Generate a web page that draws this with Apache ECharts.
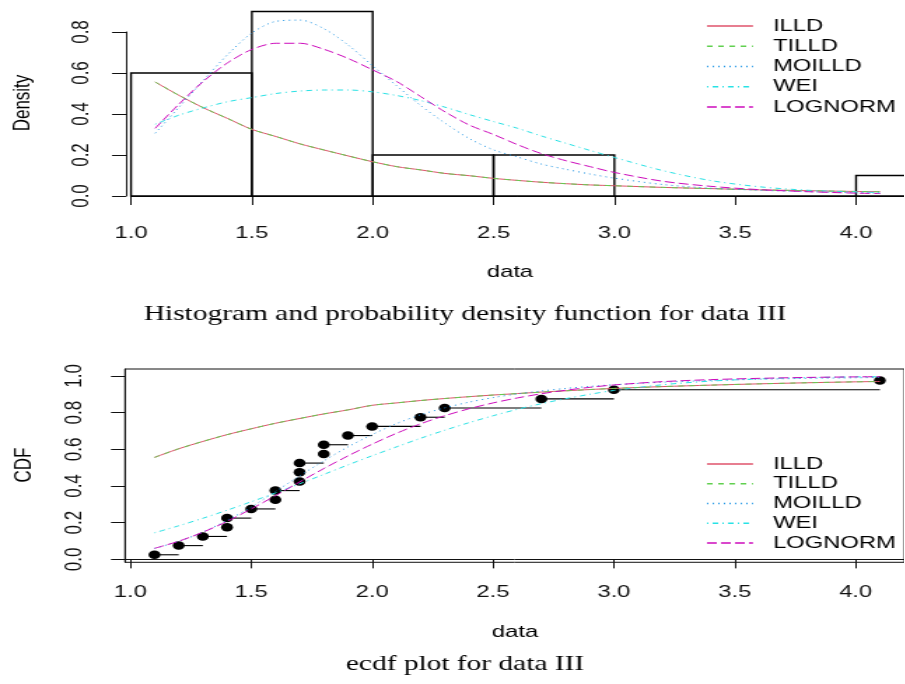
<!DOCTYPE html>
<html>
<head>
<meta charset="utf-8">
<script src="https://cdn.jsdelivr.net/npm/echarts@6/dist/echarts.min.js"></script>
<style>
  html, body { margin: 0; padding: 0; overflow: hidden; background: #fff; }
  /* the reference is an R plot stretched sideways, so the chart is drawn narrow and scaled */
  #chart { height: 684px; transform-origin: 0 0; }
</style>
</head>
<body>
<div id="chart"></div>
<script>
// 数据
const names = ['ILLD', 'TILLD', 'MOILLD', 'WEI', 'LOGNORM']
const colors = ['#DF536B', '#61D04F', '#2297E6', '#28E2E5', '#CD0BBC']
const dashes = ['solid', [4, 4], [1, 3], [1, 3, 4, 3], [7, 3]]

const xTicks = [1.0, 1.5, 2.0, 2.5, 3.0, 3.5, 4.0]
const densTicks = [0, 0.2, 0.4, 0.6, 0.8]
const cdfTicks = [0, 0.2, 0.4, 0.6, 0.8, 1.0]

// histogram (density scale)
const binStart = [1.0, 1.5, 2.0, 2.5, 3.0, 3.5, 4.0]
const binEnd = [1.5, 2.0, 2.5, 3.0, 3.5, 4.0, 4.5]
const binDensity = [0.6, 0.9, 0.2, 0.2, 0, 0, 0.1]

// fitted curves
const xs = [1.1, 1.2, 1.3, 1.4, 1.5, 1.6, 1.7, 1.8, 1.9, 2.0, 2.1, 2.2, 2.3, 2.4, 2.5, 2.6, 2.7, 2.8, 2.9, 3.0, 3.2, 3.4, 3.6, 3.8, 4.0, 4.1]
const pdfILLD = [0.556, 0.49, 0.43, 0.378, 0.325, 0.29, 0.254, 0.224, 0.195, 0.167, 0.143, 0.127, 0.11, 0.099, 0.086, 0.076, 0.067, 0.06, 0.054, 0.05, 0.042, 0.036, 0.03, 0.026, 0.022, 0.021]
const pdfTILLD = [0.556, 0.49, 0.43, 0.378, 0.325, 0.29, 0.254, 0.224, 0.195, 0.167, 0.143, 0.127, 0.11, 0.099, 0.086, 0.076, 0.067, 0.06, 0.054, 0.05, 0.042, 0.036, 0.03, 0.026, 0.022, 0.021]
const pdfMOILLD = [0.306, 0.435, 0.565, 0.69, 0.795, 0.852, 0.858, 0.815, 0.735, 0.635, 0.537, 0.44, 0.355, 0.28, 0.225, 0.19, 0.155, 0.13, 0.107, 0.087, 0.056, 0.038, 0.028, 0.021, 0.016, 0.014]
const pdfWEI = [0.35, 0.395, 0.43, 0.46, 0.48, 0.5, 0.512, 0.517, 0.517, 0.508, 0.49, 0.465, 0.433, 0.397, 0.363, 0.33, 0.292, 0.257, 0.222, 0.188, 0.124, 0.075, 0.045, 0.028, 0.02, 0.017]
const pdfLOGNORM = [0.33, 0.45, 0.56, 0.65, 0.715, 0.745, 0.745, 0.715, 0.67, 0.615, 0.558, 0.484, 0.41, 0.346, 0.3, 0.25, 0.206, 0.172, 0.143, 0.115, 0.072, 0.047, 0.031, 0.021, 0.014, 0.012]

const cdfILLD = [0.556, 0.603, 0.643, 0.68, 0.712, 0.742, 0.768, 0.793, 0.815, 0.84, 0.853, 0.866, 0.877, 0.887, 0.896, 0.904, 0.912, 0.919, 0.926, 0.932, 0.942, 0.95, 0.957, 0.963, 0.968, 0.97]
const cdfTILLD = [0.556, 0.603, 0.643, 0.68, 0.712, 0.742, 0.768, 0.793, 0.815, 0.84, 0.853, 0.866, 0.877, 0.887, 0.896, 0.904, 0.912, 0.919, 0.926, 0.932, 0.942, 0.95, 0.957, 0.963, 0.968, 0.97]
const cdfMOILLD = [0.06, 0.098, 0.149, 0.213, 0.285, 0.37, 0.455, 0.537, 0.613, 0.68, 0.74, 0.788, 0.826, 0.857, 0.882, 0.902, 0.918, 0.932, 0.943, 0.952, 0.966, 0.975, 0.982, 0.987, 0.99, 0.992]
const cdfWEI = [0.145, 0.183, 0.224, 0.268, 0.314, 0.362, 0.412, 0.463, 0.515, 0.565, 0.613, 0.66, 0.704, 0.745, 0.783, 0.818, 0.849, 0.876, 0.9, 0.921, 0.952, 0.972, 0.984, 0.991, 0.995, 0.996]
const cdfLOGNORM = [0.06, 0.099, 0.148, 0.207, 0.275, 0.347, 0.422, 0.495, 0.564, 0.628, 0.687, 0.739, 0.783, 0.821, 0.853, 0.88, 0.903, 0.922, 0.938, 0.951, 0.969, 0.98, 0.987, 0.992, 0.995, 0.996]

// empirical cdf points of data III
const obsX = [1.1, 1.2, 1.3, 1.4, 1.4, 1.5, 1.6, 1.6, 1.7, 1.7, 1.7, 1.8, 1.8, 1.9, 2.0, 2.2, 2.3, 2.7, 3.0, 4.1]
const obsY = [0.025, 0.075, 0.125, 0.175, 0.225, 0.275, 0.325, 0.375, 0.425, 0.475, 0.525, 0.575, 0.625, 0.675, 0.725, 0.775, 0.825, 0.875, 0.925, 0.975]

const pdfs = [pdfILLD, pdfTILLD, pdfMOILLD, pdfWEI, pdfLOGNORM]
const cdfs = [cdfILLD, cdfTILLD, cdfMOILLD, cdfWEI, cdfLOGNORM]

// 布局：横向拉伸
const SX = 1.4
const hx = v => v / SX
const el = document.getElementById('chart')
el.style.width = (905 / SX) + 'px'
el.style.transform = 'scaleX(' + SX + ')'

const FONT = '"Liberation Sans", Arial, sans-serif'
const SERIF = '"Liberation Serif", "DejaVu Serif", serif'
const INK = '#111'

// 直方图矩形
const histData = binStart.map((lo, i) => [lo, binEnd[i], binDensity[i]])
// ecdf 横线：每个不同取值到下一个取值
const segData = []
obsX.forEach((x, i) => {
  const next = obsX.find(v => v > x)
  const isTop = i === obsX.length - 1 || obsX[i + 1] !== x
  if (isTop && next !== undefined) segData.push([x, next, obsY[i]])
})

const axisLabelStyle = { color: INK, fontFamily: FONT, fontSize: 17 }
const fmt = v => Number(v).toFixed(1)

const curveSeries = (arr, gridIdx) => arr.map((ys, k) => ({
  name: names[k],
  type: 'line',
  xAxisIndex: gridIdx,
  yAxisIndex: gridIdx,
  data: xs.map((x, i) => [x, ys[i]]),
  symbol: 'none',
  smooth: 0.3,
  clip: false,
  lineStyle: { color: colors[k], width: 1, type: dashes[k] },
  itemStyle: { color: colors[k] },
  z: 5
}))

// 图例（R 风格：线段 + 文字）
const legendBlock = (firstY, gap) => names.flatMap((n, k) => {
  const y = firstY + k * gap
  return [
    { type: 'line', shape: { x1: hx(707), y1: y, x2: hx(753), y2: y }, style: { stroke: colors[k], lineWidth: 1.5, lineDash: dashes[k] === 'solid' ? null : dashes[k] } },
    { type: 'text', x: hx(773), y: y, style: { text: n, font: '17px ' + FONT, fill: '#000', align: 'left', verticalAlign: 'middle' } }
  ]
})

const bxMin = 0.978
const bUnit = 242.6
const bWidth = 782

const option = {
  animation: false,
  backgroundColor: '#fff',
  grid: [
    { left: hx(131), top: 32, width: hx(3.2 * 242), height: 164 },
    { left: hx(125), top: 369, width: hx(bWidth), height: 193.3, show: true, borderColor: INK, borderWidth: 1, backgroundColor: 'transparent' }
  ],
  xAxis: [
    {
      gridIndex: 0, type: 'value', min: 1, max: 4.2, offset: 7,
      axisLine: { lineStyle: { color: INK, width: 1 } },
      axisTick: { length: 9, lineStyle: { color: INK }, customValues: xTicks },
      axisLabel: { ...axisLabelStyle, margin: 22, formatter: fmt, customValues: xTicks },
      splitLine: { show: false }
    },
    {
      gridIndex: 1, type: 'value', min: bxMin, max: bxMin + bWidth / bUnit,
      axisLine: { lineStyle: { color: INK, width: 1 } },
      axisTick: { length: 9, lineStyle: { color: INK }, customValues: xTicks },
      axisLabel: { ...axisLabelStyle, margin: 22, formatter: fmt, customValues: xTicks },
      splitLine: { show: false }
    }
  ],
  yAxis: [
    {
      gridIndex: 0, type: 'value', min: 0, max: 0.8, offset: hx(5),
      axisLine: { show: true, lineStyle: { color: INK, width: 1 } },
      axisTick: { show: true, length: 10, lineStyle: { color: INK }, customValues: densTicks },
      axisLabel: { ...axisLabelStyle, rotate: 90, margin: 23, formatter: fmt, customValues: densTicks },
      splitLine: { show: false }
    },
    {
      gridIndex: 1, type: 'value', min: -0.016, max: 1.038,
      axisLine: { show: true, lineStyle: { color: INK, width: 1 } },
      axisTick: { show: true, length: 10, lineStyle: { color: INK }, customValues: cdfTicks },
      axisLabel: { ...axisLabelStyle, rotate: 90, margin: 27, formatter: fmt, customValues: cdfTicks },
      splitLine: { show: false }
    }
  ],
  graphic: [
    { type: 'text', x: hx(23), y: 103, rotation: Math.PI / 2, style: { text: 'Density', font: '17px ' + FONT, fill: '#000', align: 'center', verticalAlign: 'middle' } },
    { type: 'text', x: hx(510), y: 272, style: { text: 'data', font: '17px ' + FONT, fill: '#000', align: 'center', verticalAlign: 'middle' } },
    { type: 'text', x: hx(465), y: 314, style: { text: 'Histogram and probability density function for data III', font: '21px ' + SERIF, fill: '#000', align: 'center', verticalAlign: 'middle' } },
    { type: 'text', x: hx(24), y: 465, rotation: Math.PI / 2, style: { text: 'CDF', font: '17px ' + FONT, fill: '#000', align: 'center', verticalAlign: 'middle' } },
    { type: 'text', x: hx(515), y: 632, style: { text: 'data', font: '17px ' + FONT, fill: '#000', align: 'center', verticalAlign: 'middle' } },
    { type: 'text', x: hx(465), y: 664, style: { text: 'ecdf plot for data III', font: '21px ' + SERIF, fill: '#000', align: 'center', verticalAlign: 'middle' } },
    ...legendBlock(26, 20.25),
    ...legendBlock(464, 19.75)
  ],
  series: [
    {
      type: 'custom',
      xAxisIndex: 0,
      yAxisIndex: 0,
      clip: false,
      data: histData,
      encode: { x: [0, 1], y: 2 },
      renderItem: (params, api) => {
        const p0 = api.coord([api.value(0), api.value(2)])
        const p1 = api.coord([api.value(1), 0])
        return {
          type: 'rect',
          shape: { x: p0[0], y: p0[1], width: p1[0] - p0[0], height: p1[1] - p0[1] },
          style: { fill: 'none', stroke: '#000', lineWidth: 1.4 }
        }
      },
      z: 2
    },
    ...curveSeries(pdfs, 0),
    {
      type: 'custom',
      xAxisIndex: 1,
      yAxisIndex: 1,
      data: segData,
      encode: { x: [0, 1], y: 2 },
      renderItem: (params, api) => {
        const a = api.coord([api.value(0), api.value(2)])
        const b = api.coord([api.value(1), api.value(2)])
        return {
          type: 'line',
          shape: { x1: a[0], y1: a[1], x2: b[0], y2: b[1] },
          style: { stroke: '#000', lineWidth: 1.1 }
        }
      },
      z: 2
    },
    {
      type: 'scatter',
      xAxisIndex: 1,
      yAxisIndex: 1,
      data: obsX.map((x, i) => [x, obsY[i]]),
      symbol: 'circle',
      symbolSize: 8.5,
      itemStyle: { color: '#000', opacity: 1 },
      z: 3
    },
    ...curveSeries(cdfs, 1)
  ]
}

const chart = echarts.init(el)
chart.setOption(option)
</script>
</body>
</html>
